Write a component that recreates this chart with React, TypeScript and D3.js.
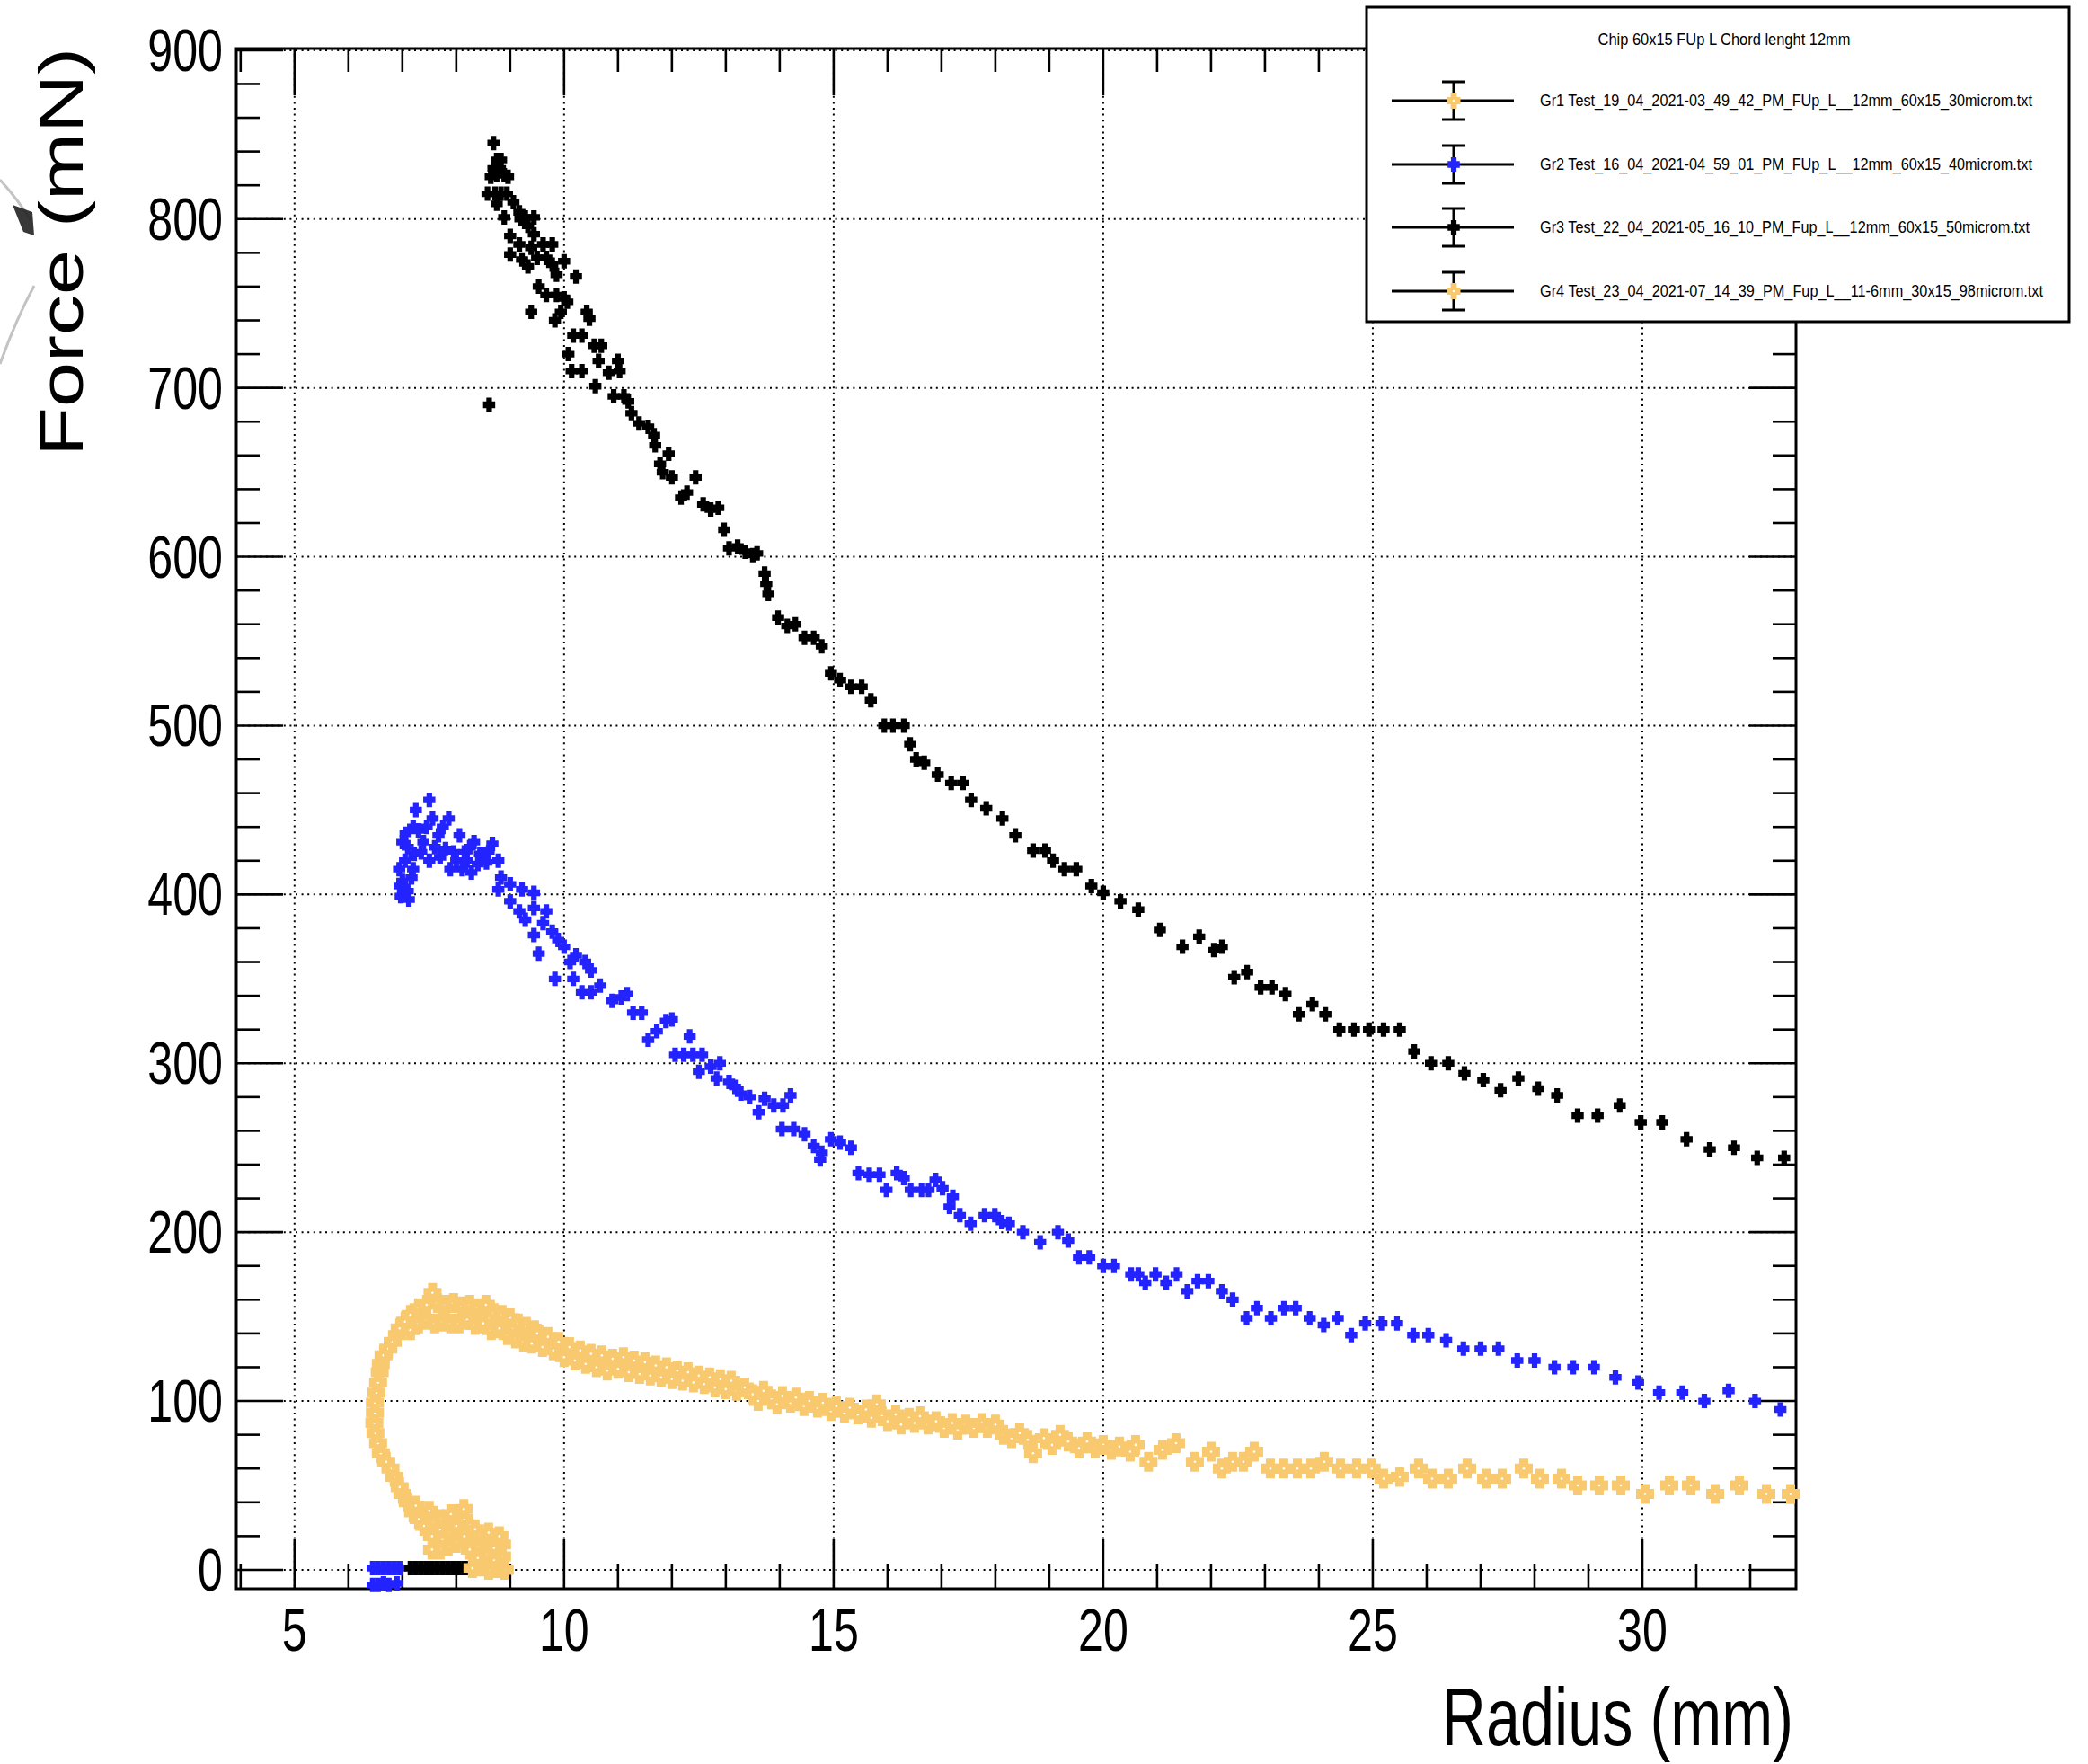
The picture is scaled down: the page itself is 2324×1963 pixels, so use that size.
import React from 'react';
import * as d3 from 'd3';

// ---- data ----
const xTicks = [5, 10, 15, 20, 25, 30];
const yTicks = [0, 100, 200, 300, 400, 500, 600, 700, 800, 900];

const legendTitle = 'Chip 60x15 FUp L Chord lenght 12mm';
const legendNames = [
  'Gr1 Test_19_04_2021-03_49_42_PM_FUp_L__12mm_60x15_30microm.txt',
  'Gr2 Test_16_04_2021-04_59_01_PM_FUp_L__12mm_60x15_40microm.txt',
  'Gr3 Test_22_04_2021-05_16_10_PM_Fup_L__12mm_60x15_50microm.txt',
  'Gr4 Test_23_04_2021-07_14_39_PM_Fup_L__11-6mm_30x15_98microm.txt',
];
const legendColors = ['#f8c96e', '#2323ff', '#000000', '#f8c96e'];

// Gr2 (blue)
const gr2Points: [number, number][] = [
  [6.45, 1], [6.55, 1], [6.65, 1], [6.75, 1], [6.85, 1], [6.95, 1],
  [6.45, -9], [6.55, -9], [6.65, -8], [6.75, -9], [6.9, -8],
  [6.97, 399], [6.94, 415], [7.0, 431], [7.06, 436], [7.17, 410], [7.22, 424], [7.25, 450],
  [7.39, 431], [7.5, 456], [7.5, 420], [7.56, 445], [7.67, 435], [7.86, 445], [7.89, 415],
  [8.06, 435], [8.11, 415], [8.28, 413], [8.33, 431], [8.44, 424], [8.5, 424], [8.56, 419],
  [8.67, 430], [8.78, 420], [8.78, 403], [8.83, 410], [9.0, 406], [9.22, 403], [9.44, 401],
  [7.1, 428], [7.2, 440], [7.3, 438], [7.35, 425], [7.45, 440], [7.6, 428], [7.7, 422],
  [7.75, 440], [7.8, 427], [7.95, 425], [8.0, 420], [8.15, 425], [8.2, 420], [8.25, 428],
  [8.4, 418], [8.6, 425], [6.95, 405], [7.05, 420], [7.12, 397], [7.0, 408], [7.1, 402], [7.2, 415],
  [9.0, 396], [9.17, 390], [9.28, 385], [9.44, 392], [9.67, 390], [9.61, 383], [9.44, 376],
  [9.78, 378], [9.89, 373], [10.0, 369], [9.53, 365], [9.83, 350], [10.17, 350], [10.11, 360],
  [10.22, 364], [10.39, 360], [10.5, 355], [10.33, 342], [10.5, 342], [10.67, 346], [10.89, 337],
  [11.06, 339], [11.17, 341], [11.28, 330], [11.44, 330], [11.56, 314], [11.72, 319], [11.89, 325],
  [12.0, 326], [12.33, 316], [12.06, 305], [12.22, 305], [12.39, 305], [12.56, 305], [12.5, 295],
  [12.72, 298], [12.89, 300], [12.83, 291], [13.06, 289], [13.17, 286], [13.28, 282], [13.44, 280],
  [13.61, 271], [13.72, 279], [13.89, 275], [14.06, 275], [14.2, 281],
  [14.04, 261], [14.26, 261], [14.46, 258], [14.63, 251], [14.78, 247], [14.75, 243], [14.95, 255],
  [15.12, 253], [15.32, 250], [15.46, 235], [15.66, 234], [15.85, 234], [15.98, 225], [16.17, 235],
  [16.3, 232], [16.43, 225], [16.63, 225], [16.76, 225], [16.89, 231], [17.02, 226], [17.21, 221],
  [17.15, 215], [17.34, 210], [17.54, 205], [17.8, 210], [17.99, 210], [18.12, 206], [18.25, 205],
  [18.51, 200], [18.83, 194], [19.16, 200], [19.35, 195], [19.55, 185], [19.74, 185], [20.0, 180],
  [20.2, 180], [20.52, 175], [20.65, 175], [20.78, 170], [20.97, 175], [21.17, 170], [21.36, 175],
  [21.56, 165], [21.75, 171], [21.95, 171], [22.2, 165], [22.4, 160], [22.66, 149], [22.85, 155],
  [23.11, 149], [23.35, 155], [23.57, 155], [23.83, 149], [24.09, 145], [24.35, 149], [24.6, 139],
  [24.86, 146], [25.16, 146], [25.45, 146], [25.75, 139], [26.03, 139], [26.36, 136], [26.68, 131],
  [27.0, 131], [27.33, 131], [27.68, 124], [28.0, 124], [28.37, 120], [28.72, 120], [29.1, 120],
  [29.5, 114], [29.92, 111], [30.31, 105], [30.74, 105], [31.15, 100], [31.6, 106], [32.09, 100],
  [32.56, 95],
];

// Gr3 (black)
const gr3Points: [number, number][] = [
  [7.15, 1], [7.25, 1], [7.35, 1], [7.45, 1], [7.55, 1], [7.65, 1], [7.75, 1], [7.85, 1],
  [7.95, 1], [8.05, 1], [8.15, 1], [8.22, 1],
  [8.61, 690],
  [8.69, 845], [8.75, 835], [8.83, 835], [8.69, 830], [8.81, 830], [8.64, 825], [8.75, 826],
  [8.89, 826], [8.96, 825], [8.58, 815], [8.72, 815], [8.83, 815], [8.94, 815], [9.06, 810],
  [8.75, 809], [8.89, 801], [9.17, 804], [9.28, 801], [9.44, 801], [9.19, 800], [9.33, 796],
  [9.0, 790], [9.44, 791], [9.17, 785], [9.39, 783], [9.61, 785], [9.78, 785], [9.0, 779],
  [9.22, 776], [9.5, 777], [9.67, 777], [10.0, 775], [9.78, 773], [9.33, 772], [9.86, 767],
  [10.22, 766], [9.53, 760], [9.67, 755], [9.86, 755], [10.0, 753], [10.06, 751], [9.39, 745],
  [9.94, 745], [9.83, 740], [10.42, 745], [10.47, 741], [10.17, 731], [10.33, 731], [10.56, 725],
  [10.69, 725], [10.08, 720], [10.64, 716], [10.14, 710], [10.33, 710], [11.0, 716], [10.83, 709],
  [11.03, 710], [10.58, 701], [10.92, 695], [11.11, 695], [11.19, 692], [11.25, 685], [11.39, 679],
  [11.56, 677], [11.67, 672], [11.69, 666], [11.94, 661], [11.78, 655], [11.83, 650], [12.0, 647],
  [12.17, 635], [12.28, 638], [12.44, 647], [12.58, 631], [12.72, 628], [12.86, 629], [12.97, 616],
  [13.06, 605], [13.22, 606], [13.36, 603], [13.5, 601], [13.58, 602], [13.72, 590], [13.75, 584],
  [13.79, 578], [13.97, 564], [14.14, 559], [14.29, 560], [14.46, 552], [14.63, 552], [14.78, 547],
  [14.95, 531], [15.12, 527], [15.32, 523], [15.52, 523], [15.69, 515], [15.94, 500], [16.1, 500],
  [16.3, 500], [16.42, 489], [16.53, 480], [16.68, 478], [16.93, 471], [17.18, 466], [17.4, 466],
  [17.55, 456], [17.83, 451], [18.13, 445], [18.37, 435], [18.7, 426], [18.92, 426], [19.07, 420],
  [19.28, 415], [19.5, 415], [19.78, 405], [20.0, 401], [20.32, 396], [20.65, 391], [21.05, 379],
  [21.47, 369], [21.78, 375], [22.05, 367], [22.2, 369], [22.43, 351], [22.67, 354], [22.92, 345],
  [23.13, 345], [23.38, 341], [23.63, 329], [23.88, 335], [24.12, 329], [24.38, 320], [24.65, 320],
  [24.93, 320], [25.2, 320], [25.5, 320], [25.77, 307], [26.08, 300], [26.4, 300], [26.7, 294],
  [27.05, 290], [27.37, 284], [27.7, 291], [28.07, 285], [28.42, 281], [28.8, 269], [29.17, 269],
  [29.58, 275], [29.97, 265], [30.37, 265], [30.82, 255], [31.25, 249], [31.7, 250], [32.13, 244],
  [32.63, 244],
];

// Gr4 (orange)
const gr4Points: [number, number][] = [
  [8.9, 0], [8.75, 1], [8.6, 0], [8.45, 2], [8.3, 1], [8.85, 8], [8.7, 6], [8.55, 9], [8.4, 7],
  [8.85, 15], [8.7, 13], [8.55, 17], [8.4, 14], [8.25, 12], [8.8, 20], [8.6, 22], [8.35, 24],
  [8.15, 20], [8.0, 16], [7.85, 14], [7.7, 12], [7.55, 12], [8.15, 30], [8.0, 26], [7.85, 22],
  [7.7, 24], [7.55, 20], [8.14, 36], [7.9, 33], [7.7, 30], [7.55, 28], [7.4, 26], [7.3, 30],
  [7.5, 35], [7.2, 34], [7.1, 40], [7.25, 38], [7.0, 45], [6.95, 49], [6.85, 55], [6.78, 60],
  [6.7, 64], [6.6, 69], [6.55, 75], [6.5, 81], [6.48, 87], [6.49, 93], [6.49, 99], [6.52, 105],
  [6.55, 111], [6.58, 117], [6.6, 122], [6.65, 127], [6.74, 131], [6.82, 135], [6.9, 139],
  [6.95, 143], [7.05, 147], [7.15, 151], [7.3, 155], [7.45, 157], [7.56, 164], [7.65, 158],
  [7.8, 157], [7.95, 158], [8.1, 156], [8.25, 157], [8.4, 155], [8.55, 157], [8.7, 152],
  [8.85, 151], [9.0, 149], [9.15, 146], [9.3, 144], [9.45, 142], [7.15, 142], [7.3, 146],
  [7.45, 148], [7.6, 146], [7.75, 147], [7.9, 146], [8.05, 146], [8.2, 148], [8.35, 145],
  [8.5, 146], [8.65, 142], [8.8, 143], [8.95, 139], [9.1, 137], [9.25, 135], [9.4, 134],
  [9.5, 140], [9.6, 132], [9.7, 138], [9.8, 130], [9.9, 135], [10.0, 126], [10.1, 132],
  [10.2, 124], [10.3, 130], [10.4, 122], [10.5, 128], [10.6, 120], [10.7, 127], [10.8, 118],
  [10.9, 125], [11.0, 119], [11.1, 126], [11.2, 117], [11.3, 124], [11.4, 116], [11.5, 123],
  [11.6, 115], [11.7, 121], [11.8, 114], [11.9, 120], [12.0, 113], [12.1, 118], [12.2, 112],
  [12.3, 117], [12.4, 111], [12.5, 115], [12.6, 110], [12.7, 114], [12.8, 108], [12.9, 113],
  [13.0, 107], [13.1, 112], [13.2, 106], [13.35, 108], [13.5, 104], [13.6, 100], [13.7, 106],
  [13.85, 101], [13.95, 98], [14.05, 103], [14.2, 99], [14.3, 102], [14.45, 97], [14.55, 100],
  [14.7, 96], [14.8, 99], [14.95, 94], [15.05, 97], [15.2, 93], [15.3, 96], [15.45, 92],
  [15.6, 95], [15.7, 90], [15.8, 98], [15.9, 91], [16.0, 88], [16.15, 92], [16.25, 86],
  [16.4, 90], [16.5, 87], [16.6, 91], [16.75, 86], [16.9, 88], [17.05, 84], [17.2, 87],
  [17.3, 83], [17.45, 86], [17.6, 84], [17.75, 87], [17.85, 84], [18.0, 86], [18.15, 80],
  [18.3, 78], [18.45, 81], [18.6, 77], [18.7, 69], [18.9, 78], [19.05, 74], [19.2, 80],
  [19.35, 76], [19.55, 72], [19.7, 76], [19.85, 72], [20.0, 74], [20.15, 71], [20.3, 73],
  [20.5, 70], [20.6, 74], [20.84, 64], [21.1, 71], [21.35, 75], [21.7, 64], [22.0, 70],
  [22.2, 60], [22.4, 64], [22.6, 64], [22.8, 70], [23.1, 60], [23.35, 60], [23.6, 60],
  [23.85, 60], [24.1, 64], [24.4, 60], [24.7, 60], [24.98, 60], [25.2, 54], [25.5, 55],
  [25.85, 60], [26.1, 54], [26.4, 54], [26.75, 60], [27.1, 54], [27.4, 54], [27.8, 60],
  [28.1, 54], [28.5, 54], [28.8, 50], [29.2, 50], [29.6, 50], [30.05, 45], [30.5, 50],
  [30.9, 50], [31.35, 45], [31.8, 50], [32.3, 45], [32.75, 45],
];

// ---- layout ----
const W = 2324, H = 1963;
const frame = { left: 263, right: 1999, top: 54, bottom: 1768 };
const SQ = 0.76; // the picture is squashed horizontally
const FONT = 'Liberation Sans, Arial, Helvetica, sans-serif';

const x = d3.scaleLinear().domain([3.92, 32.85]).range([frame.left, frame.right]);
const y = d3.scaleLinear().domain([-11.2, 901]).range([frame.bottom, frame.top]);

function crossPath(w, h, f) {
  const a = w / 2, b = h / 2, tx = a * f, ty = b * f;
  return `M${-tx},${-b}L${tx},${-b}L${tx},${-ty}L${a},${-ty}L${a},${ty}L${tx},${ty}L${tx},${b}` +
    `L${-tx},${b}L${-tx},${ty}L${-a},${ty}L${-a},${-ty}L${-tx},${-ty}Z`;
}
const smallCross = crossPath(13.5, 16, 0.46);
const bigCross = crossPath(20, 22, 0.5);

function Markers({ points, color, big }) {
  return (
    <g fill={color}>
      {points.map((d, i) => (
        <g key={i} transform={`translate(${x(d[0])},${y(d[1])})`}>
          <path d={big ? bigCross : smallCross} />
          {big && <circle r={1.3} fill="#fff" />}
        </g>
      ))}
    </g>
  );
}

export default function App() {
  const xMinor = d3.range(4, 33).filter(v => v % 5 !== 0);
  const yMinor = d3.range(20, 900, 20).filter(v => v % 100 !== 0);
  const lx = 1521, ly = 8, lw = 782, lh = 350;
  const rowY = [112, 183, 253, 324];
  const rowW = [548, 548, 545, 560];
  const LSQ = 0.86;

  return (
    <div>
      <style>{'body{margin:0;background:#fff;overflow:hidden}'}</style>
      <svg width={W} height={H} style={{ display: 'block', background: '#fff' }}>
        {/* piece of a neighbouring picture at the left edge */}
        <g fill="none" stroke="#aaa" strokeWidth={3} opacity={0.7}>
          <path d="M0,200 Q20,222 34,245" />
          <path d="M38,318 Q18,355 0,405" />
        </g>
        <path d="M14,228 L36,236 L38,262 L26,258 Z" fill="#222" opacity={0.9} />

        {/* grid */}
        <g stroke="#000" strokeWidth={2} strokeDasharray="2 4.6">
          {xTicks.map(v => <line key={v} x1={x(v)} x2={x(v)} y1={frame.top} y2={frame.bottom} />)}
          {yTicks.map(v => <line key={v} x1={frame.left} x2={frame.right} y1={y(v)} y2={y(v)} />)}
        </g>

        {/* ticks on all four sides */}
        <g stroke="#000" strokeWidth={2.6}>
          {xTicks.map(v => (
            <g key={v}>
              <line x1={x(v)} x2={x(v)} y1={frame.bottom} y2={frame.bottom - 55} />
              <line x1={x(v)} x2={x(v)} y1={frame.top} y2={frame.top + 52} />
            </g>
          ))}
          {xMinor.map(v => (
            <g key={v}>
              <line x1={x(v)} x2={x(v)} y1={frame.bottom} y2={frame.bottom - 28} />
              <line x1={x(v)} x2={x(v)} y1={frame.top} y2={frame.top + 26} />
            </g>
          ))}
          {yTicks.map(v => (
            <g key={v}>
              <line x1={frame.left} x2={frame.left + 52} y1={y(v)} y2={y(v)} />
              <line x1={frame.right} x2={frame.right - 52} y1={y(v)} y2={y(v)} />
            </g>
          ))}
          {yMinor.map(v => (
            <g key={v}>
              <line x1={frame.left} x2={frame.left + 26} y1={y(v)} y2={y(v)} />
              <line x1={frame.right} x2={frame.right - 26} y1={y(v)} y2={y(v)} />
            </g>
          ))}
        </g>
        <rect x={frame.left} y={frame.top} width={frame.right - frame.left} height={frame.bottom - frame.top}
          fill="none" stroke="#000" strokeWidth={3} />

        {/* tick labels */}
        <g fontFamily={FONT} fontSize={66} fill="#000">
          {yTicks.map(v => (
            <text key={v} transform={`translate(248,${y(v) + 23}) scale(${SQ},1)`} textAnchor="end">{v}</text>
          ))}
          {xTicks.map(v => (
            <text key={v} transform={`translate(${x(v)},1837) scale(${SQ},1)`} textAnchor="middle">{v}</text>
          ))}
        </g>

        {/* axis titles */}
        <text transform={`translate(1996,1942) scale(${SQ},1)`} textAnchor="end" fontFamily={FONT} fontSize={90}>
          Radius (mm)
        </text>
        <text transform={`translate(92,53) scale(${SQ},1) rotate(-90)`} textAnchor="end" fontFamily={FONT} fontSize={90}>
          Force (mN)
        </text>

        {/* data */}
        <Markers points={gr2Points} color="#2323ff" big={false} />
        <Markers points={gr3Points} color="#000" big={false} />
        <Markers points={gr4Points} color="#f8c96e" big={true} />

        {/* legend */}
        <g>
          <rect x={lx} y={ly} width={lw} height={lh} fill="#fff" stroke="#000" strokeWidth={3} />
          <text transform={`translate(1919,50) scale(${LSQ},1)`} textAnchor="middle" fontFamily={FONT} fontSize={18}
            textLength={281 / LSQ} lengthAdjust="spacingAndGlyphs">{legendTitle}</text>
          {legendNames.map((name, i) => {
            const cy = rowY[i];
            const big = legendColors[i] === '#f8c96e';
            return (
              <g key={name}>
                <g stroke="#000" strokeWidth={3}>
                  <line x1={1549} x2={1685} y1={cy} y2={cy} />
                  <line x1={1618} x2={1618} y1={cy - 21} y2={cy + 21} />
                  <line x1={1605} x2={1631} y1={cy - 21} y2={cy - 21} />
                  <line x1={1605} x2={1631} y1={cy + 21} y2={cy + 21} />
                </g>
                <g transform={`translate(1618,${cy})`} fill={legendColors[i]}>
                  <path d={big ? crossPath(15, 18, 0.45) : smallCross} />
                  {big && <circle r={1.3} fill="#fff" />}
                </g>
                <text transform={`translate(1714,${cy + 6}) scale(${LSQ},1)`} fontFamily={FONT} fontSize={19}
                  textLength={rowW[i] / LSQ} lengthAdjust="spacingAndGlyphs">{name}</text>
              </g>
            );
          })}
        </g>
      </svg>
    </div>
  );
}
